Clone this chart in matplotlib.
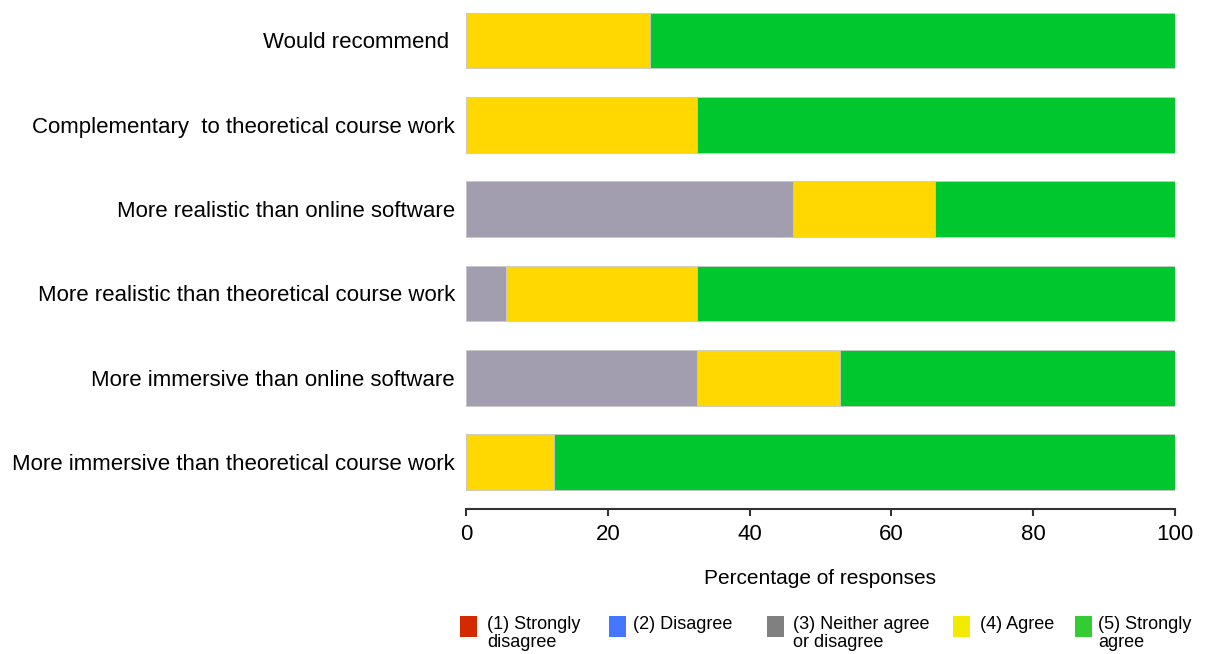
import matplotlib.pyplot as plt
from matplotlib.patches import Rectangle
import numpy as np

plt.rcParams['font.family'] = ['Liberation Sans', 'DejaVu Sans']

# statements, top to bottom as in the figure
statements = ["Would recommend ",
              "Complementary  to theoretical course work",
              "More realistic than online software",
              "More realistic than theoretical course work",
              "More immersive than online software",
              "More immersive than theoretical course work"]

# percentage of responses per answer level
strongly_disagree = [0, 0, 0, 0, 0, 0]
disagree = [0, 0, 0, 0, 0, 0]
neutral = [0, 0, 46.1, 5.7, 32.6, 0]
agree = [25.9, 32.6, 20.1, 26.9, 20.2, 12.4]
strongly_agree = [74.1, 67.4, 33.8, 67.4, 47.2, 87.6]

series = [strongly_disagree, disagree, neutral, agree, strongly_agree]
bar_colors = ['#d42a00', '#4477ff', '#a39eaf', '#fed800', '#00c72e']
legend_colors = ['#d42a00', '#4477ff', '#808080', '#f2ea00', '#33cc33']
legend_labels = ["(1) Strongly\ndisagree", "(2) Disagree", "(3) Neither agree\nor disagree",
                 "(4) Agree", "(5) Strongly\nagree"]

W, H = 1207, 654
fig = plt.figure(figsize=(W / 100, H / 100), dpi=100)
ax = fig.add_axes([466 / W, (H - 509) / H, (1175 - 466) / W, 509 / H])

y = np.arange(len(statements))[::-1]
left = np.zeros(len(statements))
for vals, c in zip(series, bar_colors):
    vals = np.array(vals, dtype=float)
    ax.barh(y, vals, left=left, height=0.66, color=c, edgecolor='#c8c8c8', linewidth=0.6)
    left += vals

ax.set_ylim(-0.557, 5.48)
ax.set_xlim(0, 100)
ax.set_yticks(y)
ax.set_yticklabels(statements, fontsize=16)
ax.tick_params(axis='y', length=0, pad=8)
ax.set_xticks([0, 20, 40, 60, 80, 100])
ax.tick_params(axis='x', labelsize=16, length=5, width=1.5, direction='out', pad=6, color='#333333')
ax.set_xlabel("Percentage of responses", fontsize=15, labelpad=17)
for s in ['top', 'right', 'left']:
    ax.spines[s].set_visible(False)
ax.spines['bottom'].set_linewidth(1.5)
ax.spines['bottom'].set_color('#333333')

# legend drawn by hand: squares next to the first line of each label
sq_x = [460, 609, 767, 953, 1075]
txt_x = [487, 633, 793, 980, 1098]
for c, lab, sx, tx in zip(legend_colors, legend_labels, sq_x, txt_x):
    fig.add_artist(Rectangle((sx / W, (H - 637) / H), 17 / W, 21 / H,
                             facecolor=c, edgecolor='none', transform=fig.transFigure))
    fig.text(tx / W, (H - 616) / H, lab, fontsize=13, va='top', ha='left', linespacing=1.05)

fig.savefig("out.png", dpi=100)
